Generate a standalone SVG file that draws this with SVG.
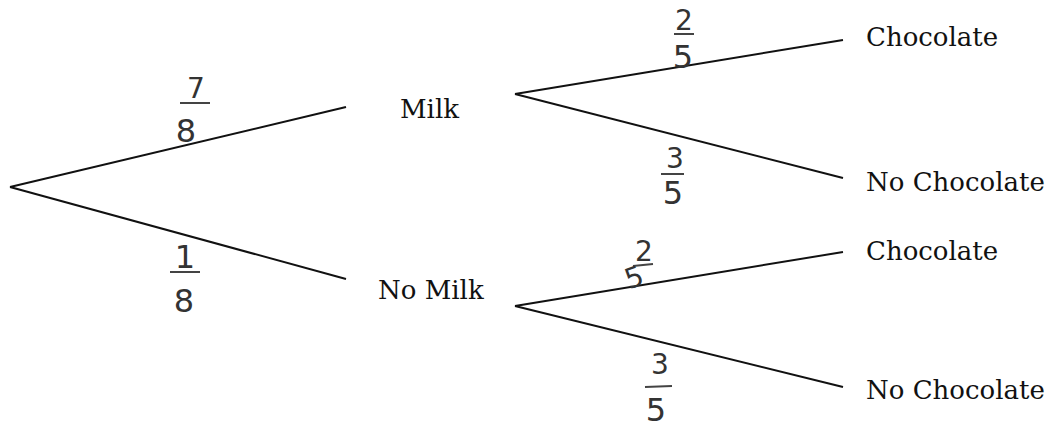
<svg xmlns="http://www.w3.org/2000/svg" width="1057" height="429" viewBox="0 0 1057 429">
<style>
.lbl{font-family:"DejaVu Serif","Liberation Serif",serif;font-size:26px;fill:#111}
.num{font-family:"DejaVu Sans","Liberation Sans",sans-serif;font-size:28px;fill:#333;text-anchor:middle}
.big{font-size:32px}
.bar{stroke:#444;stroke-width:2}
.br{stroke:#111;stroke-width:2;fill:none}
</style>
<rect width="1057" height="429" fill="#fff"/>
<g id="connectors">
<line class="br" x1="10" y1="187" x2="346" y2="107"/>
<line class="br" x1="10" y1="187" x2="346" y2="279"/>
<line class="br" x1="515" y1="94" x2="843" y2="40"/>
<line class="br" x1="515" y1="94" x2="843" y2="178"/>
<line class="br" x1="515" y1="306" x2="843" y2="252"/>
<line class="br" x1="515" y1="306" x2="843" y2="387"/>
</g>
<g id="p-milk"><text class="num" x="196" y="98">7</text><line class="bar" x1="180" y1="103" x2="210" y2="103"/><text class="num big" x="186" y="142">8</text></g>
<g id="p-nomilk"><text class="num big" x="185" y="268">1</text><line class="bar" x1="170" y1="272" x2="200" y2="272"/><text class="num big" x="184" y="312">8</text></g>
<g id="p-mc"><text class="num" x="684" y="30">2</text><line class="bar" x1="674" y1="34" x2="694" y2="34"/><text class="num big" x="683" y="68">5</text></g>
<g id="p-mnc"><text class="num" x="675" y="168">3</text><line class="bar" x1="661" y1="174" x2="684" y2="174"/><text class="num big" x="673" y="204">5</text></g>
<g id="p-nmc"><text class="num" x="644" y="261">2</text><line class="bar" x1="633" y1="266" x2="653" y2="264"/><text class="num" x="634" y="287" transform="rotate(-20 634 277)">5</text></g>
<g id="p-nmnc"><text class="num" x="660" y="374">3</text><line class="bar" x1="645" y1="387" x2="672" y2="386"/><text class="num big" x="656" y="421">5</text></g>
<g id="milk"><text class="lbl" x="400" y="118">Milk</text></g>
<g id="nomilk"><text class="lbl" x="378" y="299">No Milk</text></g>
<g id="choc1"><text class="lbl" x="866" y="46">Chocolate</text></g>
<g id="nochoc1"><text class="lbl" x="866" y="191">No Chocolate</text></g>
<g id="choc2"><text class="lbl" x="866" y="260">Chocolate</text></g>
<g id="nochoc2"><text class="lbl" x="866" y="399">No Chocolate</text></g>
</svg>
